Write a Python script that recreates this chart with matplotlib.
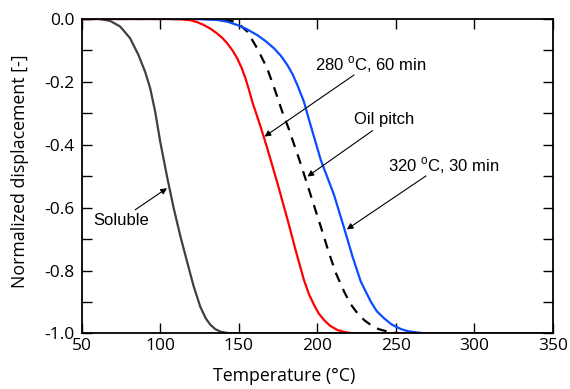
import matplotlib
matplotlib.use("Agg")
import matplotlib.pyplot as plt
from matplotlib.ticker import MultipleLocator

plt.rcParams['mathtext.fontset'] = 'custom'
plt.rcParams['mathtext.rm'] = 'Liberation Sans'

# Soluble (gray)
sol_t = [50, 61.7, 68.1, 74.5, 80.8, 86.1, 90.4, 93.6, 96.8, 100, 104.3, 108.5, 112.8, 117,
         121.3, 125.5, 129, 131.9, 135, 138.3, 142, 146.8, 350]
sol_d = [0, 0, -0.006, -0.024, -0.061, -0.114, -0.168, -0.22, -0.295, -0.39, -0.5, -0.6, -0.69, -0.77,
         -0.85, -0.915, -0.952, -0.972, -0.986, -0.994, -0.998, -1.0, -1.0]

# Oil pitch (black dashed)
oil_t = [50, 135, 140, 146.8, 151, 155.4, 161.7, 168.1, 173.4, 177.7, 181.9, 189.4, 195.8, 202.2,
         207.5, 212, 217.1, 221, 225.6, 230, 234.1, 239, 244.8, 250, 255, 350]
oil_d = [0, 0, -0.002, -0.008, -0.02, -0.04, -0.093, -0.157, -0.231, -0.295, -0.35, -0.46, -0.56, -0.66,
         -0.745, -0.81, -0.867, -0.905, -0.936, -0.958, -0.973, -0.986, -0.994, -0.998, -1.0, -1.0]

# 320 C, 30 min (blue)
b_t = [50, 121.3, 136.2, 143, 149, 155, 161.7, 167, 172.4, 176.8, 180.9, 184.3, 187.3, 191.5, 194.7,
       202.2, 210.7, 217.1, 222.4, 227.7, 234.1, 238, 242.6, 247.5, 253.3, 258, 263.9, 270, 350]
b_d = [0, 0, -0.003, -0.009, -0.019, -0.032, -0.051, -0.07, -0.093, -0.117, -0.146, -0.176, -0.21, -0.263, -0.32,
       -0.448, -0.56, -0.665, -0.755, -0.835, -0.899, -0.93, -0.952, -0.972, -0.986, -0.993, -0.997, -1.0, -1.0]

# 280 C, 60 min (red)
r_t = [50, 105.3, 113, 119.2, 123.5, 127.7, 132, 136.2, 139.5, 142.6, 146, 149, 151.8, 154.3, 156.5,
       158.6, 163.4, 168.1, 174.5, 180.9, 186.2, 191.5, 194.7, 197.9, 201, 204.3, 208, 212.8, 218, 223.4, 350]
r_d = [0, 0, -0.001, -0.004, -0.01, -0.019, -0.031, -0.046, -0.06, -0.077, -0.1, -0.125, -0.155, -0.189, -0.225,
       -0.263, -0.335, -0.41, -0.52, -0.635, -0.735, -0.83, -0.875, -0.909, -0.937, -0.957, -0.975, -0.989, -0.996, -1.0, -1.0]

fig = plt.figure(figsize=(5.7, 3.89), dpi=100)
ax = fig.add_axes([0.1433, 0.1427, 0.8267, 0.8085])

line_kw = dict(lw=1.6, solid_joinstyle='round', solid_capstyle='round')
ax.plot(sol_t, sol_d, color='#404040', **line_kw)
ax.plot(oil_t, oil_d, color='black', lw=1.6, dashes=(4.5, 3.5))
ax.plot(b_t, b_d, color='#0a4cff', **line_kw)
ax.plot(r_t, r_d, color='#ff0000', **line_kw)

ax.set_xlim(50, 350)
ax.set_ylim(-1.0, 0.0)

ax.set_xticks([50, 100, 150, 200, 250, 300, 350])
ax.set_xticklabels(["50", "100", "150", "200", "250", "300", "350"], fontfamily='Open Sans')
ax.set_yticks([0, -0.2, -0.4, -0.6, -0.8, -1.0])
ax.set_yticklabels(["0.0", "-0.2", "-0.4", "-0.6", "-0.8", "-1.0"], fontfamily='Open Sans')
ax.yaxis.set_minor_locator(MultipleLocator(0.1))
ax.tick_params(which='both', direction='in', top=True, right=True, length=7, width=1.0, labelsize=12.5)
ax.tick_params(axis='y', pad=5)
for s in ax.spines.values():
    s.set_linewidth(1.3)

ax.set_xlabel("Temperature (°C)", fontfamily='Open Sans', fontsize=12.8)
ax.xaxis.set_label_coords(0.429, -0.105)
ax.set_ylabel("Normalized displacement [-]", fontfamily='Open Sans', fontsize=12.8)
ax.yaxis.set_label_coords(-0.112, 0.517)

arr = dict(arrowstyle='-|>', color='black', lw=0.8, mutation_scale=9, shrinkA=0, shrinkB=0)
fnt = dict(fontfamily='Liberation Sans', fontsize=12)

ax.annotate("", xy=(104.3, -0.538), xytext=(84.0, -0.607), arrowprops=arr)
ax.text(75.4, -0.641, "Soluble", ha='center', va='center', **fnt)

ax.annotate("", xy=(166.4, -0.374), xytext=(223.4, -0.178), arrowprops=arr)
ax.text(198.3, -0.146, "280 $^{\\mathrm{o}}$C, 60 min", ha='left', va='center', **fnt)

ax.annotate("", xy=(193.7, -0.501), xytext=(235.2, -0.355), arrowprops=arr)
ax.text(223.2, -0.321, "Oil pitch", ha='left', va='center', **fnt)

ax.annotate("", xy=(218.8, -0.669), xytext=(269.2, -0.499), arrowprops=arr)
ax.text(245.0, -0.466, "320 $^{\\mathrm{o}}$C, 30 min", ha='left', va='center', **fnt)

fig.savefig("out.png", dpi=100)
